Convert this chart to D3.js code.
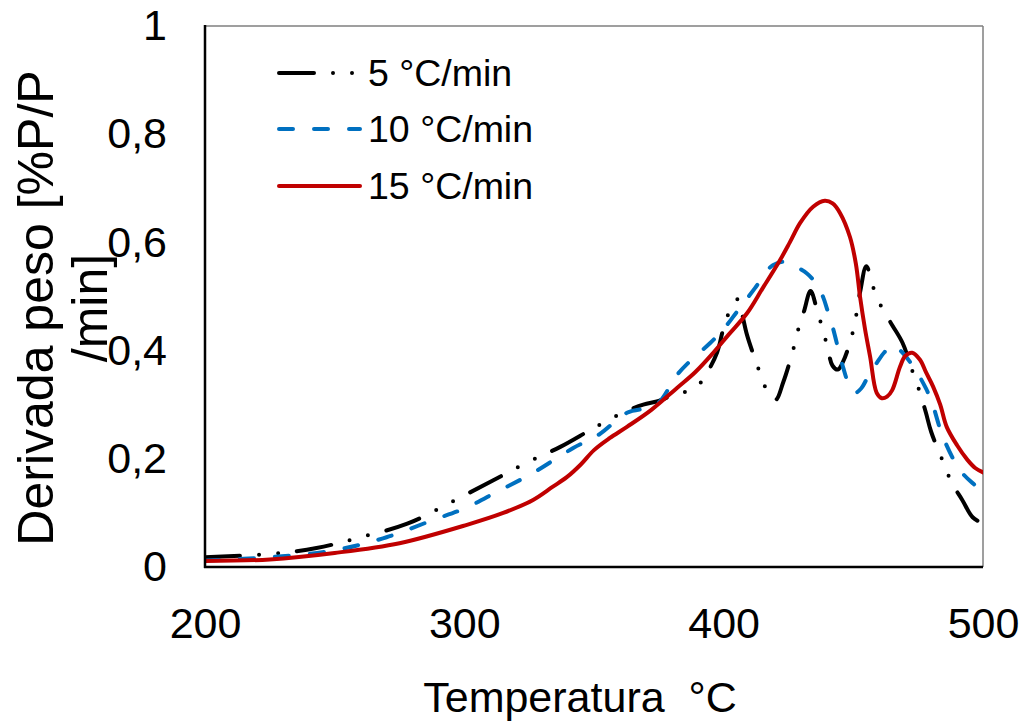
<!DOCTYPE html>
<html>
<head>
<meta charset="utf-8">
<script src="https://cdn.jsdelivr.net/npm/d3@7"></script>
<style>
  html, body { margin: 0; padding: 0; background: #fff; }
  svg { display: block; font-family: "Liberation Sans", Arial, sans-serif; }
</style>
</head>
<body>
<svg id="chart" width="1026" height="722"></svg>
<script>
// ---- data ----
const xTicks = [200, 300, 400, 500];
const yTicks = [0, 0.2, 0.4, 0.6, 0.8, 1];
const seriesNames = ["5 °C/min", "10 °C/min", "15 °C/min"];

const temp5 = [200,225,243,260,278,295,311,325,337,348.5,355,362,369,375,380.5,386,390,393.6,397.5,400,403.7,405.5,407,409,413.3,416,420,423,427,428.7,431,433.5,436,438,440,442,444,446,450,452.6,455,457.6,461,465,469,473,475.7,478,480,485,488,492,496,500];
const val5  = [0.018,0.024,0.035,0.055,0.08,0.12,0.16,0.195,0.222,0.253,0.27,0.287,0.3,0.307,0.318,0.325,0.335,0.359,0.397,0.442,0.488,0.495,0.47,0.429,0.368,0.333,0.309,0.342,0.405,0.438,0.473,0.51,0.475,0.442,0.407,0.372,0.365,0.379,0.438,0.508,0.556,0.518,0.479,0.447,0.414,0.359,0.322,0.285,0.25,0.19,0.155,0.124,0.092,0.08];

const temp10 = [200,225,250,270,288,300,313,326.5,342,352,362.7,374,382,388,394.8,400,405,412,419,424.5,428,432,435,438,440,442,446,448.5,450.7,453,456,459,462,465,469,474.5,478,480.4,484.6,491,496,500];
const val10  = [0.012,0.018,0.031,0.055,0.087,0.108,0.14,0.174,0.22,0.245,0.285,0.3,0.355,0.385,0.414,0.44,0.471,0.515,0.558,0.564,0.555,0.543,0.528,0.503,0.475,0.444,0.37,0.335,0.322,0.33,0.355,0.377,0.397,0.41,0.396,0.36,0.33,0.303,0.24,0.18,0.155,0.142];

const temp15 = [200,225,250,275,301,315,326.5,334,339.5,345,350,356,362.7,372,382,389,396,402,409,415,421.7,425.5,429.5,434.5,439,442,444.9,448.7,451,452.6,454.5,456.5,459,461,463,465,468,470,472.7,475.7,478,480.8,483.5,486,490,494,497,500];
const val15  = [0.011,0.014,0.026,0.044,0.078,0.1,0.124,0.148,0.166,0.19,0.216,0.238,0.259,0.29,0.331,0.36,0.396,0.43,0.469,0.515,0.567,0.6,0.636,0.666,0.677,0.672,0.654,0.61,0.56,0.499,0.44,0.388,0.322,0.312,0.315,0.327,0.37,0.39,0.396,0.383,0.36,0.333,0.3,0.259,0.225,0.198,0.183,0.175];

// ---- layout ----
const svg = d3.select("#chart");
const L = 205, R = 983, T = 26, B = 567;
const x = d3.scaleLinear().domain([200, 500]).range([L, R]);
const y = d3.scaleLinear().domain([0, 1]).range([B, T]);

const styles = [
  { color: "#000000", dash: "35,19,0,19,0,19" },
  { color: "#0070C0", dash: "14,21" },
  { color: "#C00000", dash: null }
];

// clip
svg.append("defs").append("clipPath").attr("id", "clip")
  .append("rect").attr("x", L).attr("y", T - 5).attr("width", R - L).attr("height", B - T + 5);

// frame: top and right (gray)
svg.append("line").attr("x1", L).attr("x2", R).attr("y1", T).attr("y2", T)
  .attr("stroke", "#7f7f7f").attr("stroke-width", 1.5);
svg.append("line").attr("x1", R).attr("x2", R).attr("y1", T).attr("y2", B)
  .attr("stroke", "#7f7f7f").attr("stroke-width", 1.5);

// axes
const fmt = d => d === 0 ? "0" : d === 1 ? "1" : String(d).replace(".", ",");
const yAxis = svg.append("g").attr("transform", `translate(${L},0)`)
  .call(d3.axisLeft(y).tickValues(yTicks).tickSize(0).tickPadding(38).tickFormat(fmt));
const xAxis = svg.append("g").attr("transform", `translate(0,${B})`)
  .call(d3.axisBottom(x).tickValues(xTicks).tickSize(0).tickPadding(40).tickFormat(d3.format("d")));
[yAxis, xAxis].forEach(g => {
  g.select(".domain").remove();
  g.selectAll("text").attr("font-size", 43).attr("fill", "#000")
    .attr("font-family", "Liberation Sans, Arial, sans-serif");
});

// series
const data = [
  temp5.map((t, i) => [t, val5[i]]),
  temp10.map((t, i) => [t, val10[i]]),
  temp15.map((t, i) => [t, val15[i]])
];
const line = d3.line().x(d => x(d[0])).y(d => y(d[1])).curve(d3.curveCatmullRom.alpha(0.5));
const plot = svg.append("g").attr("clip-path", "url(#clip)");
data.forEach((s, i) => {
  plot.append("path").datum(s)
    .attr("d", line)
    .attr("fill", "none")
    .attr("stroke", styles[i].color)
    .attr("stroke-width", 4)
    .attr("stroke-linecap", "round")
    .attr("stroke-linejoin", "round")
    .attr("stroke-dasharray", styles[i].dash);
});

// left & bottom axis lines (black)
svg.append("line").attr("x1", L).attr("x2", L).attr("y1", T - 1).attr("y2", B + 1)
  .attr("stroke", "#000").attr("stroke-width", 2.5);
svg.append("line").attr("x1", L - 1).attr("x2", R).attr("y1", B).attr("y2", B)
  .attr("stroke", "#000").attr("stroke-width", 2.5);

// legend
const legY = [73, 129, 186];
seriesNames.forEach((name, i) => {
  svg.append("line").attr("x1", 279).attr("x2", 360).attr("y1", legY[i]).attr("y2", legY[i])
    .attr("stroke", styles[i].color).attr("stroke-width", 4)
    .attr("stroke-linecap", "round")
    .attr("stroke-dasharray", styles[i].dash);
  svg.append("text").attr("x", 368).attr("y", legY[i] + 13)
    .attr("font-size", 37.5).attr("fill", "#000").text(name);
});

// axis titles
svg.append("text").attr("x", 580).attr("y", 712).attr("text-anchor", "middle")
  .attr("font-size", 43).attr("fill", "#000").text("Temperatura\u00a0\u00a0°C");

const yt = svg.append("text").attr("transform", "translate(53,308) rotate(-90)")
  .attr("text-anchor", "middle").attr("font-size", 50).attr("fill", "#000");
yt.append("tspan").attr("x", 0).attr("dy", 0).text("Derivada peso [%P/P");
yt.append("tspan").attr("x", 0).attr("dy", 54).text("/min]");
</script>
</body>
</html>
